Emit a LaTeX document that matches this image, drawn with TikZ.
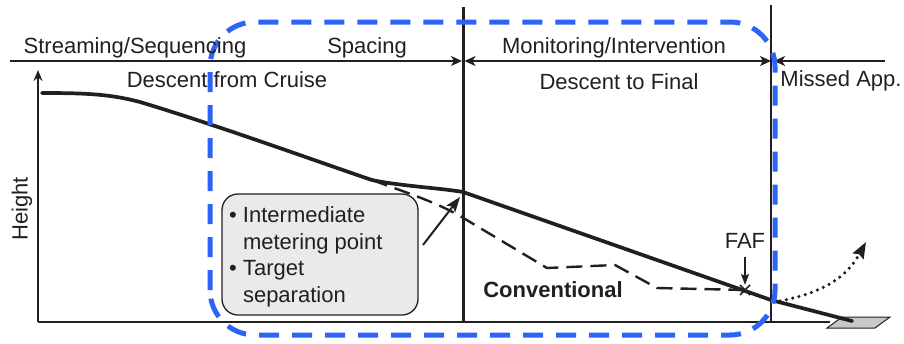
\documentclass[tikz,border=0pt]{standalone}
\usepackage{fontspec}
\setmainfont{Liberation Sans}
\usetikzlibrary{arrows.meta}
\definecolor{boxblue}{RGB}{45,100,245}
\definecolor{calloutgray}{RGB}{233,234,234}
\definecolor{runwaygray}{RGB}{200,200,200}
\definecolor{ink}{RGB}{35,31,32}
\tikzset{phasetip/.tip={Stealth[length=11pt, width=10pt, inset=3pt]}}
\begin{document}
\begin{tikzpicture}[x=1pt,y=-1pt,
  lbl/.style={font=\fontsize{22}{26.5}\selectfont, text=ink, inner sep=0pt, anchor=base},
  axis/.style={draw=ink, line width=1.5pt},
  phase/.style={draw=ink, line width=1.5pt},
  profile/.style={draw=ink, line width=3.7pt, line join=round, line cap=round},
  conventional/.style={draw=ink, line width=2.4pt, dash pattern=on 16pt off 8pt},
  missed/.style={draw=ink, line width=3.5pt, line cap=round, dash pattern=on 0pt off 6.5pt},
  region/.style={draw=boxblue, line width=5pt, dash pattern=on 20pt off 13pt, rounded corners=45pt},
  callout/.style={draw=ink, line width=1.3pt, fill=calloutgray, rounded corners=16pt,
    minimum width=196pt, minimum height=121pt, inner sep=0pt}]
\useasboundingbox (0,0) rectangle (904,343);

% key positions along the profile
\coordinate (origin) at (38,322);
\coordinate (yTop) at (38,70);
\coordinate (xEnd) at (830,322);
\coordinate (tlStart) at (10,61);
\coordinate (tlA) at (463,61);
\coordinate (tlB) at (772,61);
\coordinate (tlEnd) at (885,61);
\coordinate (divA) at (463,7);
\coordinate (divAbot) at (463,322);
\coordinate (divB) at (771,5);
\coordinate (divBbot) at (771,322);
\coordinate (meter) at (463,192);
\coordinate (branch) at (372,180);
\coordinate (faf) at (745,290);
\coordinate (cross) at (771,300);
\coordinate (touch) at (852,321);

% callout box and its bulleted text (anchored on the last line's baseline)
\node[callout] (note) at (320,254.5) {};
\node[lbl, anchor=base west, align=left] (notetext) at (229,302)
  {\textbullet\ Intermediate\\\hphantom{\textbullet\ }metering point\\\textbullet\ Target\\\hphantom{\textbullet\ }separation};
\coordinate (noteTail) at (423,245);
\coordinate (meterTip) at (460,197);
\draw[ink, line width=2pt, -{Stealth[length=15pt, width=11pt, inset=3pt]}] (noteTail) -- (meterTip);

% axes
\draw[axis, -{Stealth[length=11pt, width=9pt]}] (origin) -- (yTop);
\draw[axis] (origin) -- (xEnd);

% phase dividers
\draw[ink, line width=3pt] (divA) -- (divAbot);
\draw[ink, line width=1.4pt] (divB) -- (divBbot);

% phase timeline
\draw[phase, -{phasetip}] (tlStart) -- ([xshift=-1pt]tlA);
\draw[phase, {phasetip}-{phasetip}] ([xshift=1.5pt]tlA) -- ([xshift=-1pt]tlB);
\draw[phase, {phasetip}-] ([xshift=2pt]tlB) -- (tlEnd);

% runway
\draw[ink, line width=1pt, fill=runwaygray] (827,328) coordinate (rw1) -- (842,317) -- (890,317) -- (875,328) -- cycle;

% conventional descent
\draw[conventional] (branch) .. controls (410,194) and (440,203) .. (470,222)
  -- (547,268) -- (615,265) -- (657,288) -- (faf);

% optimized profile
\draw[profile] (42,93) .. controls (85,93) and (110,94) .. (140,102)
  .. controls (220,126) and (330,166) .. (branch)
  .. controls (400,186) and (440,188) .. (meter)
  -- (cross) -- (touch);

% missed approach
\coordinate (missStart) at (780,301);
\coordinate (missEnd) at (866,242);
\draw[missed, -{Stealth[length=16pt, width=12pt, inset=2pt]}] (missStart) .. controls (820,293) and (845,280) .. (missEnd);

% FAF marker
\draw[ink, line width=1.6pt] ([xshift=-5pt,yshift=5pt]faf) -- ([xshift=5pt,yshift=-5pt]faf)
  ([xshift=-5pt,yshift=-5pt]faf) -- ([xshift=5pt,yshift=5pt]faf);
\coordinate (fafArrowTop) at (745,257);
\draw[ink, line width=1.8pt, -{Stealth[length=11pt, width=8pt, inset=2pt]}] (fafArrowTop) -- (745,285);
\node[lbl] (fafLabel) at (745,248) {FAF};

% blue outline of the region of interest
\draw[region] (210,335) rectangle (775,22);

% labels
\node[lbl] (l1) at (135,53) {Streaming/Sequencing};
\node[lbl] (l2) at (367,53) {Spacing};
\node[lbl] (l3) at (614,53) {Monitoring/Intervention};
\node[lbl] (l4) at (227,87) {Descent from Cruise};
\node[lbl] (l5) at (619,89) {Descent to Final};
\node[lbl] (l6) at (841,86) {Missed App.};
\node[lbl, font=\fontsize{22}{26.5}\selectfont\bfseries] (l7) at (553,297) {Conventional};
\node[lbl, anchor=center, rotate=90] (l8) at (22,209) {Height};
\end{tikzpicture}
\end{document}
